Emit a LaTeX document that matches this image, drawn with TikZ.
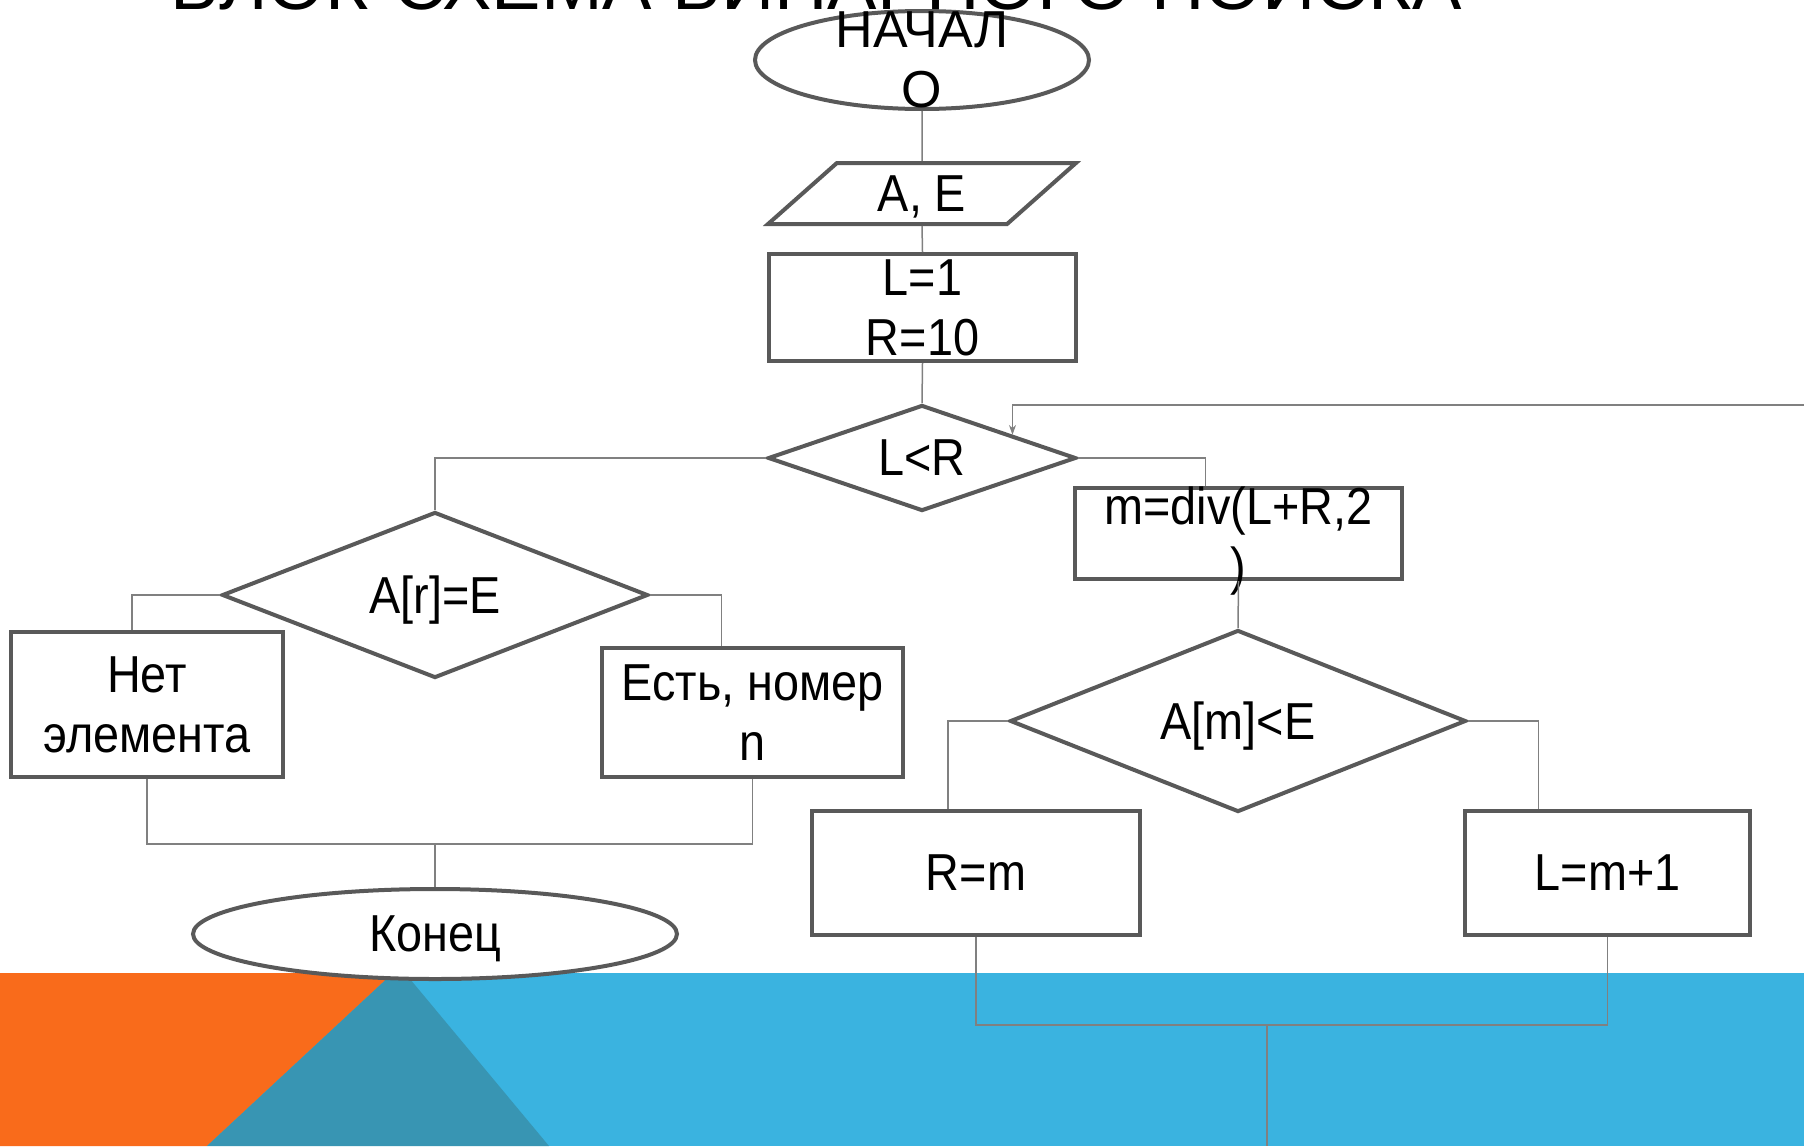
\documentclass[tikz,border=0pt]{standalone}
\usepackage{fontspec}
\setmainfont[FakeStretch=0.9]{Liberation Sans}
\newfontfamily\titlefont{Liberation Sans}
\usetikzlibrary{calc,shapes.geometric,arrows.meta}

\definecolor{shapegray}{HTML}{595959}
\definecolor{linegray}{HTML}{808080}
\definecolor{bandblue}{HTML}{3AB3E0}
\definecolor{bandorange}{HTML}{F96B1B}
\definecolor{bandteal}{HTML}{3895B3}

\begin{document}
\begin{tikzpicture}[x=0.5pt,y=-0.5pt,
  every node/.style={font=\fontsize{26}{30}\selectfont,align=center,inner sep=0pt,text depth=0pt},
  block/.style={draw=shapegray,line width=2pt,fill=white,rectangle},
  cond/.style={draw=shapegray,line width=2pt,fill=white,diamond,aspect=2.5},
  term/.style={draw=shapegray,line width=2pt,fill=white,ellipse},
  io/.style={draw=shapegray,line width=2pt,fill=white,trapezium,
    trapezium left angle=45,trapezium right angle=135,trapezium stretches=true},
  link/.style={draw=linegray,line width=0.75pt}]
  \useasboundingbox (0,0) rectangle (1804,1146);
  \clip (0,0) rectangle (1804,1146);

  % background band
  \fill[bandblue] (0,973) rectangle (1804,1146);
  \fill[bandorange] (0,973) -- (393,973) -- (207,1146) -- (0,1146) -- cycle;
  \fill[bandteal] (393,973) -- (405,973) -- (549,1146) -- (207,1146) -- cycle;

  % title (cut off at the top)
  \node[font=\titlefont\fontsize{37}{40}\selectfont,anchor=base] (title) at (816,9)
    {БЛОК-СХЕМА БИНАРНОГО ПОИСКА};

  % blocks
  \node[term,minimum width=167pt,minimum height=49pt] (start) at (922,60) {};
  \node[font=\titlefont\fontsize{26}{30}\selectfont] (starttext) at (start) {НАЧАЛ\\О};
  \node[io,minimum width=154pt,minimum height=30.5pt] (inp) at (922,193.5) {A, E};
  \node[block,minimum width=153.5pt,minimum height=53.5pt] (init) at (922.5,307.5) {L=1\\R=10};
  \node[cond,minimum width=154pt,minimum height=53pt] (lr) at (922,458) {L<R};
  \node[cond,minimum width=213pt,minimum height=83pt] (found) at (435,595) {A[r]=E};
  \node[block,minimum width=136pt,minimum height=72.5pt] (none) at (147,704.5) {Нет\\элемента};
  \node[block,minimum width=150.5pt,minimum height=64.5pt] (yes) at (752.5,712.5) {Есть, номер\\n};
  \node[term,minimum width=242pt,minimum height=45pt] (stop) at (435,934) {Конец};
  \node[block,minimum width=163.5pt,minimum height=45.5pt] (mid) at (1238.5,533.5) {};
  \node (midtext) at (1238.5,536) {m=div(L+R,2\\)};
  \node[cond,minimum width=228pt,minimum height=91pt] (less) at (1238,721) {A[m]<E};
  \node[block,minimum width=164pt,minimum height=62pt] (setr) at (976,873) {R=m};
  \node[block,minimum width=142.5pt,minimum height=62pt] (setl) at (1607.5,873) {L=m+1};

  % connectors
  \draw[link] (start.south) -- (inp.north);
  \draw[link] (inp.south) -- (init.north);
  \draw[link] (init.south) -- (lr.north);
  \draw[link] (lr.west) -| (found.north);
  \draw[link] (lr.east) -| ($(mid.north)+(-33,0)$);
  \draw[link] (found.west) -| ($(none.north)+(-15,0)$);
  \draw[link] (found.east) -| ($(yes.north)+(-31,0)$);
  \coordinate (join1) at (435,844);
  \draw[link] (none.south) |- (join1) -| (yes.south);
  \draw[link] (join1) -- (stop.north);
  \draw[link] (mid.south) -- (less.north);
  \draw[link] (less.west) -| ($(setr.north)+(-28,0)$);
  \draw[link] (less.east) -| ($(setl.north)+(-69,0)$);
  \coordinate (join2) at (1267,1025);
  \coordinate (exit) at (1267,1146);
  \draw[link] (setr.south) |- (join2) -| (setl.south);
  \draw[link] (join2) -- (exit);
  \coordinate (back) at (1804,405);
  \draw[link,-{Stealth[length=5pt,width=3.5pt]}] (back) -| ($(lr.north)!0.58!(lr.east)$);
\end{tikzpicture}
\end{document}
